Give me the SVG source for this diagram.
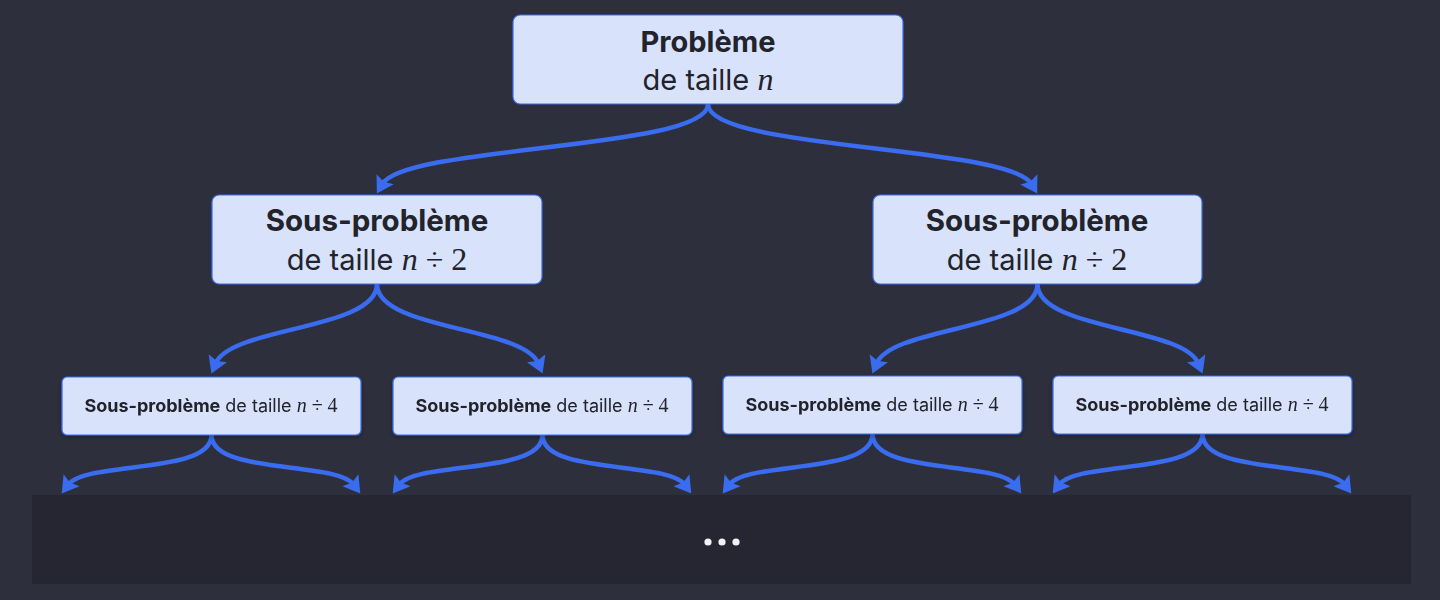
<svg xmlns="http://www.w3.org/2000/svg" width="1440" height="600" viewBox="0 0 1440 600">
<defs>
<marker id="ah" viewBox="0 0 17 21" refX="5.5" refY="10.5" markerWidth="17" markerHeight="21" orient="auto" markerUnits="userSpaceOnUse">
<path d="M0,0.5 L16.5,10.5 L0,20.5 L3,10.5 Z" fill="#3a6cf0"/>
</marker>
<filter id="sh" x="-10%" y="-20%" width="120%" height="150%">
<feDropShadow dx="0" dy="2" stdDeviation="2" flood-color="#000" flood-opacity="0.3"/>
</filter>
</defs>
<style>
.box{fill:#d8e2fb;stroke:#3a6cf0;stroke-width:1.2}
.t{font-family:Inter,"Noto Sans","Liberation Sans",sans-serif;fill:#22232b;text-anchor:middle}
.b{font-weight:700}
.m{font-family:"Liberation Serif","DejaVu Serif",serif}
.i{font-style:italic}
.c{fill:none;stroke:#3a6cf0;stroke-width:4.5;marker-end:url(#ah)}
</style>
<rect width="1440" height="600" fill="#2e2f3d"/>
<rect x="32" y="495" width="1379" height="89" fill="#262633"/>
<g id="dots" fill="#f2f2f5">
<circle cx="708" cy="542" r="3.6"/><circle cx="722" cy="542" r="3.6"/><circle cx="736" cy="542" r="3.6"/>
</g>
<g id="connectors">
<path class="c" d="M708,104 C708,150 405,145 382.4,184"/>
<path class="c" d="M708,104 C708,150 1008.6,145.3 1031.6,184"/>
<path class="c" d="M377,284 C377,330 231.3,326.5 215.7,363.3"/>
<path class="c" d="M377,284 C377,330 522.7,326.5 538.3,363.3"/>
<path class="c" d="M1037.5,284 C1037.5,330 892.3,326.5 876.7,363.3"/>
<path class="c" d="M1037.5,284 C1037.5,330 1182.7,326.5 1198.3,363.3"/>
<path class="c" d="M211.5,435 C211.5,475 86.3,460.6 68.3,484.6"/>
<path class="c" d="M211.5,435 C211.5,475 335.7,460.6 353.7,484.6"/>
<path class="c" d="M542.5,435 C542.5,475 417.3,460.6 399.3,484.6"/>
<path class="c" d="M542.5,435 C542.5,475 666.7,460.6 684.7,484.6"/>
<path class="c" d="M872.5,434 C872.5,475 747.3,460.6 729.3,484.6"/>
<path class="c" d="M872.5,434 C872.5,475 996.7,460.6 1014.7,484.6"/>
<path class="c" d="M1202.5,434 C1202.5,475 1077.3,460.6 1059.3,484.6"/>
<path class="c" d="M1202.5,434 C1202.5,475 1326.7,460.6 1344.7,484.6"/>
</g>
<g id="root">
<rect class="box" x="513" y="15" width="390" height="89" rx="7"/>
<text class="t b" x="708" y="52" font-size="29">Problème</text>
<text class="t" x="708" y="90" font-size="29">de taille <tspan class="m i" font-size="32">n</tspan></text>
</g>
<g id="sub2-left">
<rect class="box" x="212" y="195" width="330" height="89" rx="7"/>
<text class="t b" x="377" y="231" font-size="29.5">Sous-problème</text>
<text class="t" x="377" y="270" font-size="29">de taille <tspan class="m" font-size="32"><tspan class="i">n</tspan> ÷ 2</tspan></text>
</g>
<g id="sub2-right">
<rect class="box" x="873" y="195" width="329" height="89" rx="7"/>
<text class="t b" x="1037" y="231" font-size="29.5">Sous-problème</text>
<text class="t" x="1037" y="270" font-size="29">de taille <tspan class="m" font-size="32"><tspan class="i">n</tspan> ÷ 2</tspan></text>
</g>
<g id="sub4-1" filter="url(#sh)">
<rect class="box" x="62" y="377" width="299" height="58" rx="5"/>
<text class="t" x="211" y="412" font-size="18"><tspan class="b">Sous-problème</tspan> de taille <tspan class="m" font-size="20"><tspan class="i">n</tspan> ÷ 4</tspan></text>
</g>
<g id="sub4-2" filter="url(#sh)">
<rect class="box" x="393" y="377" width="299" height="58" rx="5"/>
<text class="t" x="542" y="412" font-size="18"><tspan class="b">Sous-problème</tspan> de taille <tspan class="m" font-size="20"><tspan class="i">n</tspan> ÷ 4</tspan></text>
</g>
<g id="sub4-3" filter="url(#sh)">
<rect class="box" x="723" y="376" width="299" height="58" rx="5"/>
<text class="t" x="872" y="411" font-size="18"><tspan class="b">Sous-problème</tspan> de taille <tspan class="m" font-size="20"><tspan class="i">n</tspan> ÷ 4</tspan></text>
</g>
<g id="sub4-4" filter="url(#sh)">
<rect class="box" x="1053" y="376" width="299" height="58" rx="5"/>
<text class="t" x="1202" y="411" font-size="18"><tspan class="b">Sous-problème</tspan> de taille <tspan class="m" font-size="20"><tspan class="i">n</tspan> ÷ 4</tspan></text>
</g>
</svg>
